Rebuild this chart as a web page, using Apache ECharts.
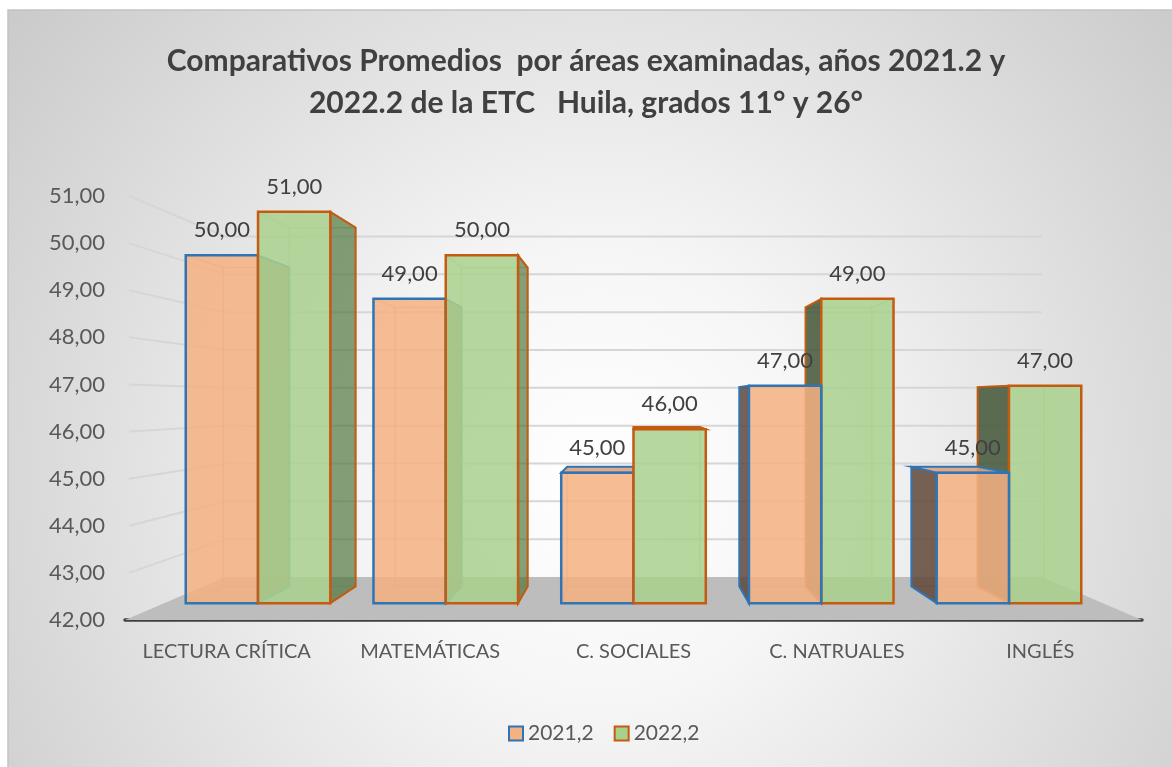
<!DOCTYPE html>
<html>
<head>
<meta charset="utf-8">
<script src="https://cdn.jsdelivr.net/npm/echarts@6/dist/echarts.min.js"></script>
<style>
html,body{margin:0;padding:0;background:#fff;}
#chart{width:1172px;height:767px;}
</style>
</head>
<body>
<div id="chart"></div>
<script>
var categories = ['LECTURA CRÍTICA', 'MATEMÁTICAS', 'C. SOCIALES', 'C. NATRUALES', 'INGLÉS'];
var seriesNames = ['2021,2', '2022,2'];
var values2021 = [50, 49, 45, 47, 45];
var values2022 = [51, 50, 46, 49, 47];
var yTicks = [42, 43, 44, 45, 46, 47, 48, 49, 50, 51];

// depth of the faux 3d box (share of distance to vanishing point)
var K_FRONT = 0.077, K_BACK = 0.154, K_WALL = 0.197;
var FONT = 'Lato, "Open Sans", sans-serif';

function fmt(v) { return v.toFixed(2).replace('.', ','); }
function vanish(cs) { return [cs.x + cs.width / 2, cs.y + cs.height * 0.485]; }
function project(x, y, vp, k) {
    return [vp[0] + (x - vp[0]) * (1 - k), vp[1] + (y - vp[1]) * (1 - k)];
}

var styles = [
    {fill: 'rgba(244,177,131,0.85)', stroke: '#2E75B6', inner: 'rgba(190,130,95,0.45)',
     left: 'rgba(95,70,55,0.85)', right: 'rgba(150,105,80,0.8)', top: 'rgba(225,160,120,0.9)'},
    {fill: 'rgba(169,209,142,0.85)', stroke: '#C55A11', inner: 'rgba(170,180,100,0.5)',
     left: 'rgba(65,85,55,0.85)', right: 'rgba(70,110,50,0.65)', top: 'rgba(150,190,120,0.9)'}
];

function barRender(idx) {
    var st = styles[idx];
    return function (params, api) {
        var cs = params.coordSys;
        var vp = vanish(cs);
        var cat = api.value(0), val = api.value(1);
        var c = api.coord([cat, yTicks[0]]);
        var t = api.coord([cat, val]);
        var bw = api.size([1, 0])[0] * 0.385;
        var x0 = idx === 0 ? c[0] - bw : c[0];
        var x1 = x0 + bw;
        var yb = c[1], yt = t[1];
        var f = [project(x0, yt, vp, K_FRONT), project(x1, yt, vp, K_FRONT),
                 project(x1, yb, vp, K_FRONT), project(x0, yb, vp, K_FRONT)];
        var b = [project(x0, yt, vp, K_BACK), project(x1, yt, vp, K_BACK),
                 project(x1, yb, vp, K_BACK), project(x0, yb, vp, K_BACK)];
        var z = 100 - Math.abs((x0 + x1) / 2 - vp[0]) / 20;
        var ch = [];
        ch.push({type: 'polygon', shape: {points: b}, z2: z,
                 style: {fill: null, stroke: st.inner, lineWidth: 1.5}});
        for (var i = 0; i < 4; i++) {
            ch.push({type: 'line', z2: z,
                     shape: {x1: f[i][0], y1: f[i][1], x2: b[i][0], y2: b[i][1]},
                     style: {stroke: st.inner, lineWidth: 1.5}});
        }
        if (x1 < vp[0]) {
            ch.push({type: 'polygon', z2: z + 0.1, shape: {points: [f[1], b[1], b[2], f[2]]},
                     style: {fill: st.right, stroke: st.stroke, lineWidth: 2}});
        } else if (x0 > vp[0]) {
            ch.push({type: 'polygon', z2: z + 0.1, shape: {points: [f[0], b[0], b[3], f[3]]},
                     style: {fill: st.left, stroke: st.stroke, lineWidth: 2}});
        }
        if (yt > vp[1]) {
            ch.push({type: 'polygon', z2: z + 0.2, shape: {points: [f[0], f[1], b[1], b[0]]},
                     style: {fill: st.top, stroke: st.stroke, lineWidth: 2}});
        }
        ch.push({type: 'polygon', z2: z + 0.5, shape: {points: f},
                 style: {fill: st.fill, stroke: st.stroke, lineWidth: 2.5}});
        ch.push({type: 'text', z2: 500, x: (f[0][0] + f[1][0]) / 2, y: f[0][1] - 25,
                 style: {text: fmt(val), fill: '#404040', font: '22px ' + FONT,
                         align: 'center', verticalAlign: 'middle'}});
        return {type: 'group', children: ch};
    };
}

function wallRender(params, api) {
    var cs = params.coordSys;
    var vp = vanish(cs);
    var y = api.coord([0, api.value(1)])[1];
    var l = cs.x, r = cs.x + cs.width;
    var pl = project(l, y, vp, K_WALL), pr = project(r, y, vp, K_WALL);
    if (api.value(1) === yTicks[0]) {
        return {type: 'polygon', shape: {points: [[l, y], [r, y], pr, pl]},
                style: {fill: '#bdbdbd'}};
    }
    return {type: 'polyline', shape: {points: [[l + 4, y], pl, pr]},
            style: {stroke: '#d6d6d6', lineWidth: 2, fill: null}};
}

var chart = echarts.init(document.getElementById('chart'));
var option = {
    animation: false,
    graphic: [{
        type: 'rect', z: -10, silent: true,
        shape: {x: 8, y: 10, width: 1180, height: 780},
        style: {
            stroke: '#c4c4c4', lineWidth: 1.5,
            fill: new echarts.graphic.RadialGradient(0.5, 0.6, 0.95, [
                {offset: 0, color: '#ffffff'},
                {offset: 0.3, color: '#f6f6f6'},
                {offset: 1, color: '#cbcbcb'}
            ])
        }
    }],
    title: {
        text: 'Comparativos Promedios  por áreas examinadas, años 2021.2 y\n2022.2 de la ETC   Huila, grados 11° y 26°',
        left: 'center',
        top: 35,
        textStyle: {fontFamily: FONT, fontSize: 30, fontWeight: 'bold', color: '#404040', lineHeight: 42}
    },
    legend: {
        bottom: 18,
        left: 503,
        icon: 'rect',
        itemWidth: 14,
        itemHeight: 14,
        itemGap: 20,
        textStyle: {fontFamily: FONT, fontSize: 21, color: '#595959'},
        data: [
            {name: seriesNames[0], itemStyle: {color: '#F4B183', borderColor: '#2E75B6', borderWidth: 2}},
            {name: seriesNames[1], itemStyle: {color: '#A9D18E', borderColor: '#C55A11', borderWidth: 2}}
        ]
    },
    grid: {left: 125, right: 30, top: 196, bottom: 147, containLabel: false, outerBoundsMode: 'none'},
    xAxis: {
        type: 'category',
        data: categories,
        axisTick: {show: false},
        axisLine: {lineStyle: {color: '#404040', width: 3.5}},
        axisLabel: {interval: 0, fontFamily: FONT, fontSize: 20, color: '#595959', margin: 22}
    },
    yAxis: {
        type: 'value',
        min: yTicks[0],
        max: yTicks[yTicks.length - 1],
        interval: 1,
        axisLine: {show: false},
        axisTick: {show: false},
        splitLine: {show: false},
        axisLabel: {fontFamily: FONT, fontSize: 22, color: '#595959', margin: 20, formatter: fmt}
    },
    series: [
        {type: 'custom', name: 'wall', z: 1, renderItem: wallRender,
         data: yTicks.map(function (v) { return [0, v]; })},
        {type: 'custom', name: seriesNames[0], z: 2, renderItem: barRender(0),
         itemStyle: {color: '#F4B183', borderColor: '#2E75B6'},
         data: values2021.map(function (v, i) { return [i, v]; })},
        {type: 'custom', name: seriesNames[1], z: 2, renderItem: barRender(1),
         itemStyle: {color: '#A9D18E', borderColor: '#C55A11'},
         data: values2022.map(function (v, i) { return [i, v]; })}
    ]
};
chart.setOption(option);
window.addEventListener('resize', function () { chart.resize(); });
</script>
</body>
</html>
